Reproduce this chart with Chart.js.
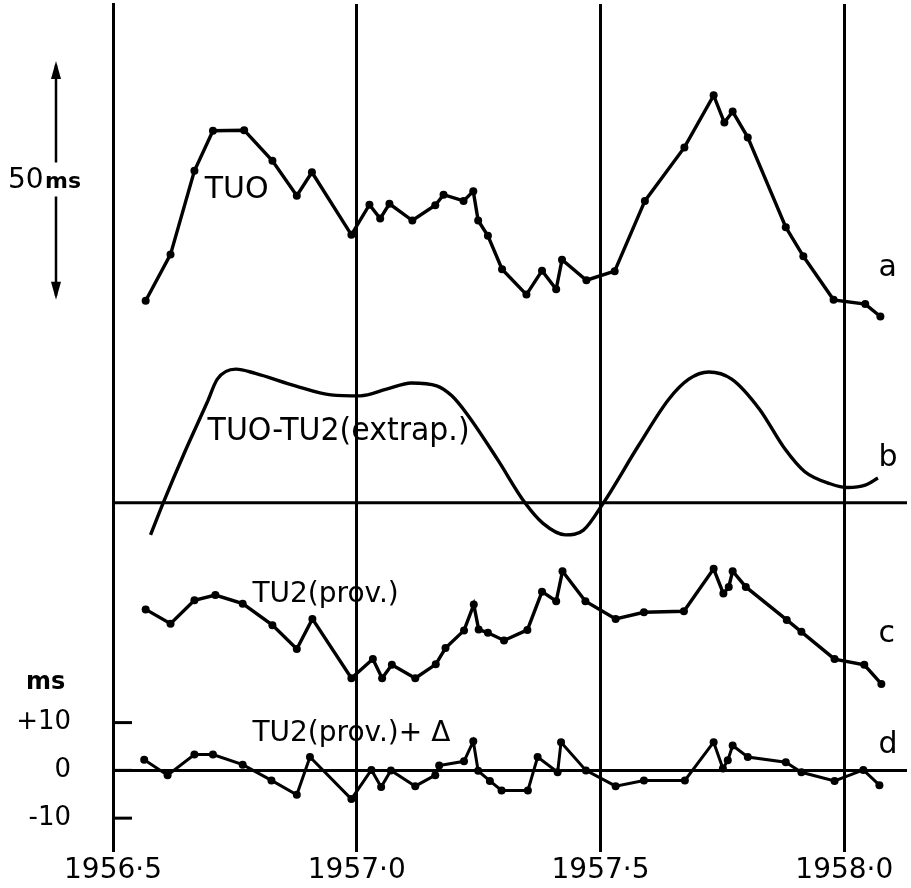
<!DOCTYPE html>
<html>
<head>
<meta charset="utf-8">
<script src="https://cdn.jsdelivr.net/npm/chart.js@4/dist/chart.umd.min.js"></script>
<style>
  html, body { margin: 0; padding: 0; background: #fff; }
  #wrap { width: 911px; height: 888px; }
</style>
</head>
<body>
<div id="wrap"><canvas id="chart" width="911" height="888"></canvas></div>
<script>
// All four curves sit on one ms scale, stacked; zero of curve d is the origin.
var xTicks = [1956.5, 1957.0, 1957.5, 1958.0];
var xTickLabels = ['1956·5', '1957·0', '1957·5', '1958·0'];
var yTicks = [-10, 0, 10];
var yTickLabels = ['-10', '0', '+10'];

// a: TUO
var aOffset = 100;
var aYears = [1956.567, 1956.618, 1956.667, 1956.705, 1956.769, 1956.827, 1956.877, 1956.908, 1956.989,
  1957.026, 1957.048, 1957.067, 1957.114, 1957.161, 1957.178, 1957.219, 1957.239, 1957.249, 1957.269,
  1957.298, 1957.348, 1957.380, 1957.409, 1957.421, 1957.471, 1957.529, 1957.591, 1957.672, 1957.732,
  1957.754, 1957.771, 1957.802, 1957.880, 1957.916, 1957.978, 1958.043, 1958.074];
var aValues = [-1.7, 8.0, 25.5, 33.9, 34.0, 27.6, 20.3, 25.2, 12.1,
  18.4, 15.5, 18.6, 15.1, 18.3, 20.5, 19.2, 21.2, 15.1, 11.9,
  4.9, -0.4, 4.6, 0.7, 6.9, 2.6, 4.5, 19.2, 30.4, 41.3,
  35.6, 37.9, 32.5, 13.7, 7.6, -1.5, -2.4, -5.0];

// b: TUO - TU2 (extrap.), smooth curve
var bOffset = 56;
var bYears = [1956.577, 1956.603, 1956.647, 1956.693, 1956.714, 1956.752, 1956.792, 1956.874, 1956.947,
  1957.007, 1957.061, 1957.112, 1957.164, 1957.195, 1957.226, 1957.288, 1957.345, 1957.382, 1957.428,
  1957.465, 1957.506, 1957.578, 1957.640, 1957.681, 1957.722, 1957.769, 1957.826, 1957.878, 1957.919,
  1957.971, 1958.007, 1958.043, 1958.069];
var bValues = [-6.7, 0, 10.6, 21.0, 25.9, 28.0, 27.1, 24.5, 22.6,
  22.4, 23.8, 25.1, 24.5, 22.4, 18.6, 9.2, 0, -4.3, -6.7,
  -5.7, 0, 12.0, 21.7, 25.9, 27.4, 25.9, 19.6, 11.3, 6.5,
  4.0, 3.2, 3.7, 5.2];

// c: TU2 (prov.)
var cOffset = 20;
var cYears = [1956.567, 1956.618, 1956.667, 1956.710, 1956.766, 1956.827, 1956.877, 1956.909, 1956.989,
  1957.033, 1957.052, 1957.072, 1957.120, 1957.162, 1957.182, 1957.220, 1957.240, 1957.250, 1957.269,
  1957.302, 1957.350, 1957.380, 1957.409, 1957.422, 1957.469, 1957.531, 1957.589, 1957.671, 1957.732,
  1957.752, 1957.763, 1957.771, 1957.798, 1957.882, 1957.912, 1957.980, 1958.041, 1958.076];
var cValues = [13.7, 10.7, 15.6, 16.7, 14.9, 10.4, 5.4, 11.7, -0.7,
  3.3, -0.7, 2.1, -0.7, 2.2, 5.6, 9.3, 14.7, 9.5, 8.8,
  7.2, 9.4, 17.4, 15.4, 21.7, 15.4, 11.7, 13.1, 13.3, 22.2,
  17.0, 18.4, 21.7, 18.4, 11.5, 9.0, 3.3, 2.1, -1.9];

// d: TU2 (prov.) + delta
var dOffset = 0;
var dYears = [1956.564, 1956.612, 1956.667, 1956.705, 1956.766, 1956.825, 1956.877, 1956.904, 1956.989,
  1957.030, 1957.050, 1957.070, 1957.120, 1957.161, 1957.169, 1957.220, 1957.239, 1957.249, 1957.273,
  1957.297, 1957.351, 1957.371, 1957.412, 1957.419, 1957.470, 1957.531, 1957.589, 1957.673, 1957.732,
  1957.751, 1957.761, 1957.771, 1957.802, 1957.880, 1957.912, 1957.980, 1958.039, 1958.072];
var dValues = [2.2, -1.0, 3.3, 3.3, 1.2, -2.1, -5.1, 2.8, -6.0,
  0.1, -3.5, 0, -3.3, -1.0, 1.0, 1.9, 6.1, -0.1, -2.2,
  -4.2, -4.2, 2.8, -0.4, 5.9, 0, -3.3, -2.1, -2.1, 5.9,
  0.4, 2.1, 5.2, 2.8, 1.7, -0.4, -2.2, 0.1, -3.1];

var xMin = 1956.5, xMax = 1958.1286;

function pts(years, values, offset) {
  return years.map(function (x, i) { return { x: x, y: values[i] + offset }; });
}
function flat(level) {
  return [{ x: xMin, y: level }, { x: xMax, y: level }];
}

var notes = [
  { text: 'TUO', x: 1956.688, y: 121.5, size: 30 },
  { text: 'TUO-TU2(extrap.)', x: 1956.694, y: 70.8, size: 32, maxWidth: 262 },
  { text: 'TU2(prov.)', x: 1956.786, y: 36.7, size: 28 },
  { text: 'TU2(prov.)+ Δ', x: 1956.786, y: 7.7, size: 28 },
  { text: 'a', x: 1958.07, y: 105.2, size: 30 },
  { text: 'b', x: 1958.07, y: 65.4, size: 30 },
  { text: 'c', x: 1958.07, y: 28.5, size: 30 },
  { text: 'd', x: 1958.07, y: 5.2, size: 30 }
];

var notesPlugin = {
  id: 'notes',
  afterDraw: function (chart) {
    var ctx = chart.ctx, xs = chart.scales.x, ys = chart.scales.y, area = chart.chartArea;
    ctx.save();
    ctx.fillStyle = '#000';
    ctx.strokeStyle = '#000';
    ctx.textBaseline = 'middle';
    ctx.textAlign = 'left';
    notes.forEach(function (n) {
      ctx.font = n.size + 'px "DejaVu Sans"';
      var px = xs.getPixelForValue(n.x), py = ys.getPixelForValue(n.y);
      if (n.maxWidth) ctx.fillText(n.text, px, py, n.maxWidth);
      else ctx.fillText(n.text, px, py);
    });

    // inward tick marks on the d scale
    ctx.lineWidth = 3;
    yTicks.forEach(function (v) {
      var py = ys.getPixelForValue(v);
      ctx.beginPath();
      ctx.moveTo(area.left, py);
      ctx.lineTo(area.left + 19, py);
      ctx.stroke();
    });

    // "ms" unit label
    ctx.font = 'bold 24px "DejaVu Sans"';
    ctx.fillText('ms', 26, ys.getPixelForValue(18.4));

    // 50 ms scale arrow
    var ax = area.left - 57;
    var top = ys.getPixelForValue(148.5), bot = ys.getPixelForValue(98.5);
    var mid = ys.getPixelForValue(123.5);
    ctx.lineWidth = 2.5;
    ctx.beginPath();
    ctx.moveTo(ax, top + 4); ctx.lineTo(ax, mid - 18);
    ctx.moveTo(ax, mid + 16); ctx.lineTo(ax, bot - 4);
    ctx.stroke();
    ctx.beginPath();
    ctx.moveTo(ax, top); ctx.lineTo(ax - 5, top + 18); ctx.lineTo(ax + 5, top + 18); ctx.closePath();
    ctx.moveTo(ax, bot); ctx.lineTo(ax - 5, bot - 18); ctx.lineTo(ax + 5, bot - 18); ctx.closePath();
    ctx.fill();
    ctx.font = '28px "DejaVu Sans"';
    ctx.fillText('50', 8, mid);
    ctx.font = 'bold 22px "DejaVu Sans"';
    ctx.fillText('ms', 45, mid + 2);
    ctx.restore();
  }
};

function lineSet(data, opts) {
  return Object.assign({
    data: data,
    borderColor: '#000',
    backgroundColor: '#000',
    borderWidth: 3.4,
    pointRadius: 4,
    pointBorderWidth: 0,
    tension: 0,
    fill: false
  }, opts || {});
}

var ctx = document.getElementById('chart').getContext('2d');
var chart = new Chart(ctx, {
  type: 'line',
  data: {
    datasets: [
      lineSet(pts(aYears, aValues, aOffset)),
      lineSet(pts(bYears, bValues, bOffset), { pointRadius: 0, cubicInterpolationMode: 'monotone' }),
      lineSet(flat(bOffset), { pointRadius: 0, borderWidth: 3 }),
      lineSet(pts(cYears, cValues, cOffset)),
      lineSet(flat(dOffset), { pointRadius: 0, borderWidth: 3 }),
      lineSet(pts(dYears, dValues, dOffset), { borderWidth: 3 })
    ]
  },
  options: {
    responsive: false,
    animation: false,
    layout: { padding: 0 },
    plugins: {
      legend: { display: false },
      tooltip: { enabled: false }
    },
    scales: {
      x: {
        type: 'linear',
        min: xMin,
        max: xMax,
        afterBuildTicks: function (axis) {
          axis.ticks = xTicks.map(function (v) { return { value: v }; });
        },
        afterFit: function (axis) {
          axis.height = 43;
          axis.paddingLeft = 0;
          axis.paddingRight = 0;
        },
        ticks: {
          color: '#000',
          font: { family: 'DejaVu Sans', size: 28 },
          padding: 2,
          maxRotation: 0,
          autoSkip: false,
          callback: function (v) {
            var i = xTicks.indexOf(v);
            return i >= 0 ? xTickLabels[i] : '';
          }
        },
        grid: { color: '#000', lineWidth: 3, tickLength: 7, drawOnChartArea: true },
        border: { display: false }
      },
      y: {
        type: 'linear',
        min: -15.62,
        max: 160.42,
        afterBuildTicks: function (axis) {
          axis.ticks = yTicks.map(function (v) { return { value: v }; });
        },
        afterFit: function (axis) {
          axis.width = 113;
          axis.paddingTop = 0;
          axis.paddingBottom = 0;
        },
        ticks: {
          color: '#000',
          font: { family: 'DejaVu Sans', size: 26 },
          padding: 34,
          callback: function (v) {
            var i = yTicks.indexOf(v);
            return i >= 0 ? yTickLabels[i] : '';
          }
        },
        grid: { display: false },
        border: { display: true, color: '#000', width: 3 }
      }
    }
  },
  plugins: [notesPlugin]
});
</script>
</body>
</html>
